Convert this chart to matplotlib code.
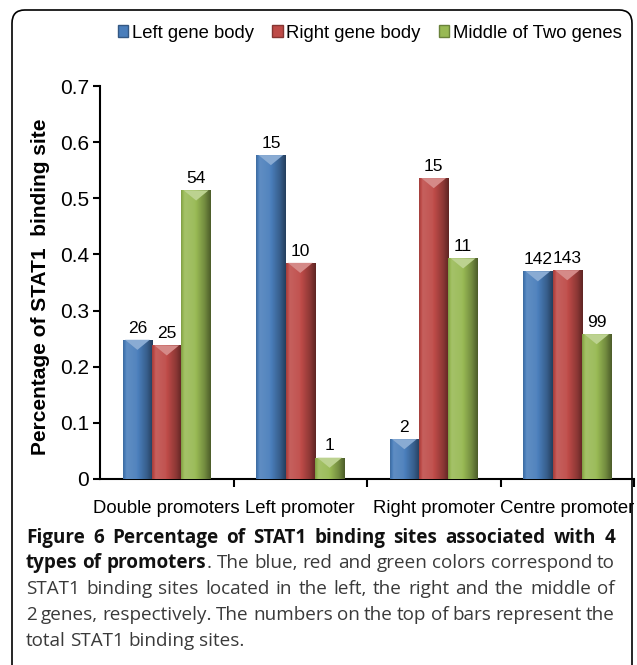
import numpy as np
import matplotlib
matplotlib.use("Agg")
import matplotlib.pyplot as plt
from matplotlib.patches import FancyBboxPatch, Polygon, Patch
from matplotlib.colors import to_rgb

# data
categories = ["Double promoters", "Left promoter", "Right promoter", "Centre promoter"]
series = ["Left gene body", "Right gene body", "Middle of Two genes"]
left_body = [0.248, 0.577, 0.071, 0.370]
right_body = [0.238, 0.385, 0.536, 0.372]
middle = [0.514, 0.038, 0.393, 0.258]
left_counts = [26, 15, 2, 142]
right_counts = [25, 10, 15, 143]
middle_counts = [54, 1, 11, 99]

colors = ["#4a7ebb", "#be4b48", "#98b954"]

# caption lines: each word is a list of (text, weight) pieces
caption = [
    [[("Figure", "bold")], [("6", "bold")], [("Percentage", "bold")], [("of", "bold")],
     [("STAT1", "bold")], [("binding", "bold")], [("sites", "bold")], [("associated", "bold")],
     [("with", "bold")], [("4", "bold")]],
    [[("types", "bold")], [("of", "bold")], [("promoters", "bold"), (".", "normal")]]
    + [[(w, "normal")] for w in "The blue, red and green colors correspond to".split()],
    [[(w, "normal")] for w in "STAT1 binding sites located in the left, the right and the middle of".split()],
    [[(w, "normal")] for w in "2 genes, respectively. The numbers on the top of bars represent the".split()],
    [[(w, "normal")] for w in "total STAT1 binding sites.".split()],
]

W, H = 637, 665
plt.rcParams["font.family"] = ["Liberation Sans", "DejaVu Sans"]
fig = plt.figure(figsize=(W / 100, H / 100), dpi=100)

# rounded frame around the figure panel
frame = FancyBboxPatch((12 / W, -0.05), 620 / W, 1.05 - 10 / H,
                       boxstyle="round,pad=0,rounding_size=0.02",
                       transform=fig.transFigure, fill=False,
                       edgecolor="black", linewidth=1.2)
fig.patches.append(frame)

ax = fig.add_axes([100 / W, 1 - 479 / H, 534 / W, 393 / H])
ax.set_facecolor("none")


def shade(c, f):
    c = np.array(to_rgb(c))
    if f >= 0:
        return c + (1 - c) * f
    return c * (1 + f)


x = np.arange(len(categories))
bw = 0.22
data = [left_body, right_body, middle]
counts = [left_counts, right_counts, middle_counts]

prof_t = [0.0, 0.12, 0.45, 0.8, 1.0]
prof_f = [-0.15, 0.12, 0.05, -0.25, -0.5]
tt = np.linspace(0, 1, 64)
ff = np.interp(tt, prof_t, prof_f)
bev = 0.018

for i, (vals, cnts, col) in enumerate(zip(data, counts, colors)):
    bars = ax.bar(x + (i - 1) * bw, vals, bw, color=col, edgecolor="none", zorder=2)
    grad = np.array([[shade(col, f) for f in ff]])
    for b, v, n in zip(bars, vals, cnts):
        x0, w = b.get_x(), b.get_width()
        im = ax.imshow(grad, extent=(x0, x0 + w, 0, v), aspect="auto",
                       zorder=3, interpolation="bilinear")
        im.set_clip_path(b)
        tri = Polygon([(x0 + 0.08 * w, v), (x0 + 0.92 * w, v), (x0 + w / 2, v - bev)],
                      closed=True, facecolor=shade(col, 0.35), edgecolor="none", zorder=4)
        ax.add_patch(tri)
        ax.annotate(str(n), (x0 + w / 2, v), xytext=(0, 3), textcoords="offset points",
                    ha="center", va="bottom", fontsize=12.5, zorder=5)

ax.set_xlim(-0.5, 3.5)
ax.set_ylim(0, 0.7)
ax.set_yticks(np.arange(0, 0.71, 0.1))
ax.set_yticklabels(["0", "0.1", "0.2", "0.3", "0.4", "0.5", "0.6", "0.7"])
ax.tick_params(axis="y", labelsize=15, length=5, width=1.5, pad=3)
ax.set_xticks(x)
ax.set_xticklabels(categories, fontsize=13.3)
ax.tick_params(axis="x", which="major", length=0, pad=15)
ax.set_xticks([0.5, 1.5, 2.5, 3.5], minor=True)
ax.tick_params(axis="x", which="minor", length=6, width=1.5)
for s in ["top", "right"]:
    ax.spines[s].set_visible(False)
for s in ["left", "bottom"]:
    ax.spines[s].set_linewidth(1.5)

ax.set_ylabel("Percentage of STAT1  binding site", fontsize=15, fontweight="bold")
ax.yaxis.set_label_coords(-0.094, 0.49)

handles = [Patch(facecolor=c, edgecolor=shade(c, -0.3), label=s) for c, s in zip(colors, series)]
fig.legend(handles=handles, loc="center", bbox_to_anchor=(370 / W, 1 - 33 / H), ncol=3,
           frameon=False, fontsize=13.3, handlelength=0.55, handleheight=0.55,
           handletextpad=0.2, columnspacing=1.0)

# caption, justified like the journal layout
cap_font = ["Open Sans", "DejaVu Sans"]
cap_size = {"bold": 13.6, "normal": 13.6}
cap_color = {"bold": "#111111", "normal": "#3a3a3a"}
x_left, x_right = 26, 615
ys = [538, 563, 589, 615, 641]
fig.canvas.draw()
renderer = fig.canvas.get_renderer()
for li, (yy, words) in enumerate(zip(ys, caption)):
    placed = []
    widths = []
    for word in words:
        segs = []
        ww = 0
        for s, wt in word:
            t = fig.text(0, 1 - yy / H, s, fontsize=cap_size[wt], fontweight=wt,
                         family=cap_font, va="center", color=cap_color[wt])
            sw = t.get_window_extent(renderer).width
            segs.append((t, sw))
            ww += sw
        placed.append(segs)
        widths.append(ww)
    if li < len(caption) - 1:
        gap = (x_right - x_left - sum(widths)) / (len(words) - 1)
    else:
        gap = 4.5
    xp = x_left
    for segs, ww in zip(placed, widths):
        for t, sw in segs:
            t.set_x(xp / W)
            xp += sw
        xp += gap

fig.savefig("out.png", dpi=100)
